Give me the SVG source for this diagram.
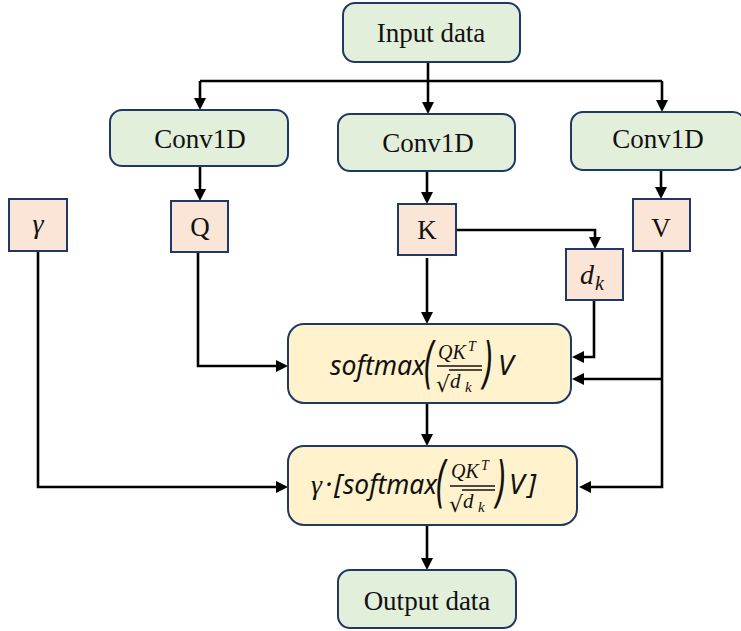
<svg xmlns="http://www.w3.org/2000/svg" width="741" height="631" viewBox="0 0 741 631">
<defs>
<marker id="ah" viewBox="0 0 12 12" refX="4" refY="6" markerWidth="12" markerHeight="12" markerUnits="userSpaceOnUse" orient="auto"><path d="M0,0 L12,6 L0,12 z" fill="#000"/></marker>
</defs>
<style>
.g{fill:#E2EFDA;stroke:#1F3864;stroke-width:2}
.p{fill:#FBE5D6;stroke:#1F3864;stroke-width:2}
.y{fill:#FFF2CC;stroke:#1F3864;stroke-width:2}
.t{font-family:"Liberation Serif","Times New Roman",serif;font-size:27px;fill:#111;text-anchor:middle}
.m{font-family:"Noto Sans","Open Sans",sans-serif;font-style:italic;fill:#111}
.s{font-family:"Liberation Serif","DejaVu Serif",serif;font-style:italic;fill:#111}
.c{fill:none;stroke:#000;stroke-width:2.6}
.a{marker-end:url(#ah)}
</style>
<rect width="741" height="631" fill="#fff"/>
<g id="connectors">
<path class="c a" d="M428 62 V106"/>
<path class="c" d="M200 81 H662"/>
<path class="c a" d="M200 81 V102"/>
<path class="c a" d="M662 81 V104"/>
<path class="c a" d="M200 166 V193"/>
<path class="c a" d="M427 171 V196"/>
<path class="c a" d="M661 170 V191"/>
<path class="c a" d="M456 230 H595 V241"/>
<path class="c a" d="M427 258 V316"/>
<path class="c a" d="M198 252 V366 H280"/>
<path class="c a" d="M594 300 V357 H580"/>
<path class="c a" d="M662 251 V487 H587"/>
<path class="c a" d="M662 379 H580"/>
<path class="c a" d="M38 251 V487 H280"/>
<path class="c a" d="M427 403 V438"/>
<path class="c a" d="M427 525 V562"/>
</g>
<g id="input"><rect class="g" x="343" y="3" width="177" height="59" rx="12"/><text class="t" x="431" y="42">Input data</text></g>
<g id="conv1"><rect class="g" x="110" y="110" width="178" height="56" rx="12"/><text class="t" x="200" y="148">Conv1D</text></g>
<g id="conv2"><rect class="g" x="338" y="114" width="177" height="57" rx="12"/><text class="t" x="428" y="152">Conv1D</text></g>
<g id="conv3"><rect class="g" x="571" y="112" width="174" height="58" rx="12"/><text class="t" x="658" y="148">Conv1D</text></g>
<g id="gamma"><rect class="p" x="9" y="199" width="58" height="52"/><text class="s" x="38" y="233" font-size="28" text-anchor="middle">γ</text></g>
<g id="Q"><rect class="p" x="171" y="201" width="57" height="51"/><text class="t" x="200" y="236">Q</text></g>
<g id="K"><rect class="p" x="398" y="204" width="58" height="51"/><text class="t" x="427" y="239">K</text></g>
<g id="V"><rect class="p" x="633" y="199" width="57" height="52"/><text class="t" x="661" y="237">V</text></g>
<g id="dk"><rect class="p" x="566" y="249" width="57" height="51"/><text class="s" x="580" y="284" font-size="28">d</text><text class="s" x="595" y="290" font-size="20">k</text></g>
<g id="attn">
<rect class="y" x="288" y="324" width="283" height="79" rx="16"/>
<text class="m" x="330" y="375" font-size="28" textLength="95" lengthAdjust="spacingAndGlyphs">softmax</text>
<text class="m" transform="translate(424,381) scale(1,1.75)" font-size="32" font-style="normal">(</text>
<text class="s" x="438" y="359" font-size="20">QK</text>
<text class="s" x="468" y="351" font-size="14">T</text>
<line x1="437" y1="366" x2="482" y2="366" stroke="#111" stroke-width="1.5"/>
<text x="436" y="392" font-family="DejaVu Sans,sans-serif" font-size="22" fill="#111">√</text>
<line x1="449" y1="370" x2="482" y2="370" stroke="#111" stroke-width="1.3"/>
<text class="s" x="450" y="388" font-size="21">d</text>
<text class="s" x="465" y="392" font-size="15">k</text>
<text class="m" transform="translate(483,381) scale(1,1.75)" font-size="32" font-style="normal">)</text>
<text class="m" x="498" y="375" font-size="28">V</text>
</g>
<g id="out-formula">
<rect class="y" x="288" y="446" width="289" height="79" rx="16"/>
<text class="s" x="311" y="494" font-size="28">γ</text>
<text class="m" x="325" y="494" font-size="28" font-style="normal">·</text>
<text class="m" x="334" y="494" font-size="28" font-style="normal">[</text>
<text class="m" x="343" y="494" font-size="28" textLength="94" lengthAdjust="spacingAndGlyphs">softmax</text>
<text class="m" transform="translate(436,500) scale(1,1.75)" font-size="32" font-style="normal">(</text>
<text class="s" x="451" y="478" font-size="20">QK</text>
<text class="s" x="481" y="470" font-size="14">T</text>
<line x1="450" y1="486" x2="495" y2="486" stroke="#111" stroke-width="1.5"/>
<text x="449" y="512" font-family="DejaVu Sans,sans-serif" font-size="22" fill="#111">√</text>
<line x1="462" y1="490" x2="495" y2="490" stroke="#111" stroke-width="1.3"/>
<text class="s" x="463" y="508" font-size="21">d</text>
<text class="s" x="478" y="512" font-size="15">k</text>
<text class="m" transform="translate(496,500) scale(1,1.75)" font-size="32" font-style="normal">)</text>
<text class="m" x="509" y="494" font-size="28">V</text>
<text class="m" x="528" y="494" font-size="28" font-style="normal">]</text>
</g>
<g id="output"><rect class="g" x="338" y="570" width="178" height="58" rx="12"/><text class="t" x="427" y="610">Output data</text></g>
</svg>
